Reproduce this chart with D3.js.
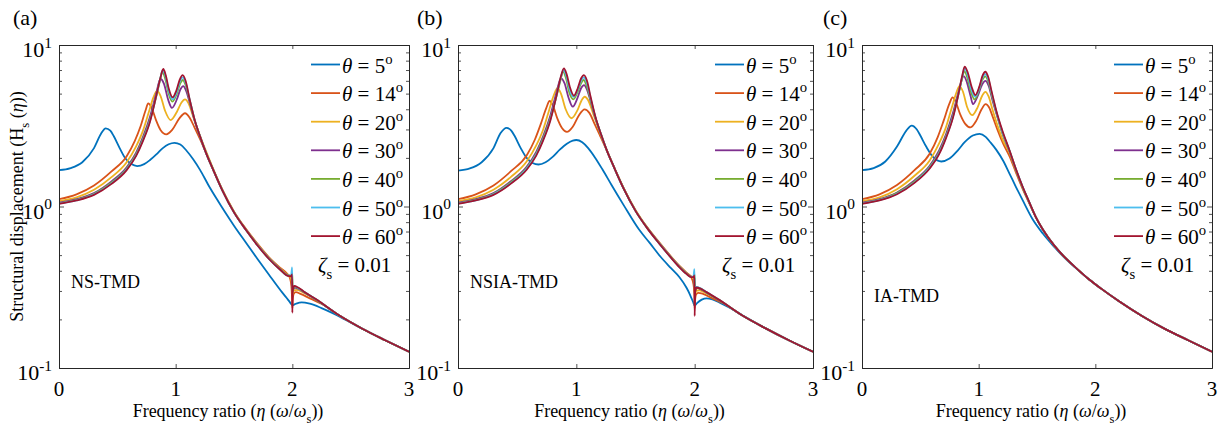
<!DOCTYPE html>
<html><head><meta charset="utf-8">
<script src="https://cdn.jsdelivr.net/npm/d3@7"></script>
<style>
html,body{margin:0;padding:0;background:#fff;}
svg{display:block;}
text{font-family:"Liberation Serif","Times New Roman",serif;fill:#000;white-space:pre;}
</style></head>
<body>
<svg id="chart" width="1225" height="426"></svg>
<script>
// ---------- DATA ----------
const thetas = [5, 14, 20, 30, 40, 50, 60];
const colors = ['#0072BD','#D95319','#EDB120','#7E2F8E','#77AC30','#4DBEEE','#A2142F'];
const xTicks = [0, 1, 2, 3];
const yTicks = [0.1, 1, 10];
const yTickExp = ['-1', '0', '1'];
const yMinor = [0.2,0.3,0.4,0.5,0.6,0.7,0.8,0.9,2,3,4,5,6,7,8,9];
const panelTags = ['(a)', '(b)', '(c)'];
const panelNames = ['NS-TMD', 'NSIA-TMD', 'IA-TMD'];
const zetaText = '0.01';

// Panel (a) NS-TMD : [eta, Hs]
const a5 = [[0,1.68],[0.1,1.73],[0.2,1.88],[0.3,2.3],[0.36,2.82],[0.4,3.05],[0.44,2.95],[0.47,2.72],[0.52,2.3],[0.57,1.98],[0.62,1.83],[0.67,1.78],[0.73,1.83],[0.78,1.94],[0.84,2.12],[0.89,2.3],[0.94,2.43],[0.99,2.48],[1.04,2.42],[1.09,2.23],[1.15,1.96],[1.21,1.68],[1.28,1.36],[1.35,1.12],[1.42,0.93],[1.5,0.76],[1.6,0.6],[1.7,0.475],[1.8,0.378],[1.9,0.302],[1.95,0.272],[1.98,0.255],[2.0,0.245],[2.03,0.25],[2.08,0.255],[2.15,0.25],[2.25,0.235],[2.35,0.218],[2.45,0.2],[2.6,0.175],[2.8,0.148],[3.0,0.126]];
const a14 = [[0,1.11],[0.15,1.19],[0.3,1.35],[0.45,1.65],[0.58,2.05],[0.65,2.55],[0.7,3.15],[0.74,3.9],[0.765,4.35],[0.79,4.15],[0.83,3.45],[0.87,2.98],[0.92,2.8],[0.97,2.98],[1.03,3.5],[1.08,3.78],[1.12,3.55],[1.16,3.1],[1.21,2.6],[1.26,2.15],[1.32,1.7],[1.4,1.27],[1.5,0.93],[1.6,0.73],[1.7,0.59],[1.8,0.485],[1.9,0.415],[1.96,0.38],[1.98,0.36],[1.992,0.32],[1.998,0.265],[2.0,0.235],[2.003,0.262],[2.012,0.288],[2.03,0.295],[2.07,0.288],[2.15,0.27],[2.25,0.25],[2.4,0.212],[2.6,0.175],[2.8,0.148],[3.0,0.126]];
const a20 = [[0,1.08],[0.15,1.14],[0.3,1.27],[0.45,1.52],[0.58,1.88],[0.66,2.35],[0.72,2.95],[0.77,3.85],[0.81,4.75],[0.84,5.2],[0.87,4.85],[0.91,3.9],[0.957,3.43],[1.01,3.85],[1.05,4.4],[1.08,4.6],[1.11,4.35],[1.15,3.6],[1.2,2.85],[1.26,2.2],[1.32,1.72],[1.4,1.27],[1.5,0.93],[1.6,0.725],[1.7,0.585],[1.8,0.48],[1.9,0.41],[1.96,0.378],[1.985,0.365],[1.995,0.345],[2.0,0.3],[2.003,0.285],[2.012,0.302],[2.04,0.305],[2.1,0.292],[2.2,0.267],[2.4,0.212],[2.6,0.175],[2.8,0.148],[3.0,0.126]];
const a30 = [[0,1.055],[0.15,1.11],[0.3,1.21],[0.45,1.43],[0.58,1.75],[0.66,2.15],[0.72,2.7],[0.78,3.6],[0.83,4.9],[0.87,6.16],[0.9,5.75],[0.935,4.6],[0.968,4.08],[1.01,4.6],[1.04,5.3],[1.065,5.57],[1.09,5.2],[1.12,4.4],[1.16,3.45],[1.21,2.7],[1.26,2.15],[1.32,1.7],[1.4,1.26],[1.5,0.92],[1.6,0.72],[1.7,0.58],[1.8,0.477],[1.9,0.407],[1.96,0.375],[1.99,0.37],[1.998,0.36],[2.0,0.33],[2.004,0.3],[2.015,0.315],[2.05,0.31],[2.1,0.295],[2.2,0.266],[2.4,0.212],[2.6,0.175],[2.8,0.148],[3.0,0.126]];
const a40 = [[0,1.05],[0.15,1.1],[0.3,1.2],[0.45,1.41],[0.58,1.72],[0.66,2.1],[0.72,2.62],[0.78,3.45],[0.835,4.85],[0.865,6.0],[0.885,6.83],[0.91,6.2],[0.94,5.0],[0.972,4.46],[1.01,5.0],[1.04,5.8],[1.062,6.07],[1.085,5.65],[1.12,4.55],[1.16,3.5],[1.21,2.7],[1.26,2.15],[1.32,1.7],[1.4,1.26],[1.5,0.92],[1.6,0.72],[1.7,0.578],[1.8,0.475],[1.9,0.405],[1.96,0.374],[1.99,0.372],[1.998,0.385],[2.0,0.36],[2.003,0.3],[2.015,0.318],[2.05,0.312],[2.1,0.296],[2.2,0.266],[2.4,0.212],[2.6,0.175],[2.8,0.148],[3.0,0.126]];
const a50 = [[0,1.045],[0.15,1.09],[0.3,1.19],[0.45,1.39],[0.58,1.7],[0.66,2.07],[0.72,2.58],[0.78,3.4],[0.835,4.9],[0.868,6.2],[0.89,7.0],[0.913,6.4],[0.94,5.2],[0.973,4.6],[1.008,5.1],[1.038,6.0],[1.06,6.3],[1.085,5.85],[1.12,4.6],[1.16,3.5],[1.21,2.7],[1.26,2.15],[1.32,1.7],[1.4,1.26],[1.5,0.92],[1.6,0.72],[1.7,0.577],[1.8,0.474],[1.9,0.404],[1.96,0.373],[1.99,0.375],[1.998,0.42],[2.0,0.3],[2.004,0.31],[2.015,0.32],[2.05,0.313],[2.1,0.297],[2.2,0.267],[2.4,0.212],[2.6,0.175],[2.8,0.148],[3.0,0.126]];
const a60 = [[0,1.04],[0.15,1.09],[0.3,1.18],[0.45,1.38],[0.58,1.68],[0.66,2.05],[0.72,2.55],[0.78,3.35],[0.835,4.9],[0.87,6.3],[0.894,7.1],[0.915,6.5],[0.94,5.4],[0.974,4.74],[1.005,5.2],[1.035,6.1],[1.06,6.5],[1.085,6.0],[1.12,4.6],[1.16,3.5],[1.21,2.7],[1.26,2.15],[1.32,1.7],[1.4,1.26],[1.5,0.92],[1.6,0.72],[1.7,0.576],[1.8,0.473],[1.9,0.403],[1.96,0.372],[1.99,0.37],[1.998,0.38],[2.0,0.22],[2.004,0.3],[2.015,0.322],[2.05,0.315],[2.1,0.297],[2.2,0.267],[2.4,0.212],[2.6,0.175],[2.8,0.148],[3.0,0.126]];

// Panel (b) NSIA-TMD
const b5 = [[0,1.67],[0.1,1.72],[0.2,1.88],[0.3,2.3],[0.36,2.85],[0.41,3.07],[0.45,2.95],[0.48,2.72],[0.53,2.3],[0.58,2.0],[0.63,1.86],[0.68,1.82],[0.74,1.88],[0.8,2.03],[0.86,2.25],[0.92,2.45],[0.97,2.56],[1.0,2.58],[1.05,2.5],[1.1,2.3],[1.16,2.0],[1.22,1.7],[1.3,1.35],[1.4,1.02],[1.53,0.72],[1.62,0.595],[1.71,0.49],[1.8,0.415],[1.87,0.366],[1.93,0.315],[1.96,0.285],[1.985,0.258],[2.0,0.243],[2.02,0.252],[2.06,0.265],[2.1,0.27],[2.15,0.266],[2.22,0.252],[2.3,0.235],[2.4,0.213],[2.6,0.176],[2.8,0.148],[3.0,0.126]];
const b14 = [[0,1.11],[0.15,1.19],[0.3,1.35],[0.45,1.66],[0.58,2.07],[0.65,2.6],[0.7,3.25],[0.745,4.05],[0.774,4.5],[0.8,4.25],[0.84,3.5],[0.88,3.05],[0.92,2.9],[0.97,3.12],[1.02,3.65],[1.07,3.99],[1.11,3.8],[1.15,3.3],[1.2,2.75],[1.26,2.2],[1.32,1.74],[1.4,1.3],[1.5,0.95],[1.6,0.74],[1.7,0.6],[1.8,0.49],[1.87,0.43],[1.93,0.39],[1.97,0.365],[1.99,0.33],[1.998,0.28],[2.0,0.235],[2.003,0.26],[2.012,0.285],[2.03,0.292],[2.07,0.288],[2.15,0.27],[2.25,0.25],[2.4,0.212],[2.6,0.176],[2.8,0.148],[3.0,0.126]];
const b20 = [[0,1.08],[0.15,1.14],[0.3,1.27],[0.45,1.53],[0.58,1.9],[0.66,2.38],[0.72,3.0],[0.77,3.95],[0.81,4.9],[0.84,5.4],[0.87,5.0],[0.91,4.0],[0.96,3.52],[1.01,3.95],[1.045,4.55],[1.07,4.78],[1.1,4.55],[1.14,3.8],[1.19,3.0],[1.25,2.3],[1.32,1.75],[1.4,1.3],[1.5,0.95],[1.6,0.74],[1.7,0.597],[1.8,0.488],[1.87,0.428],[1.93,0.388],[1.97,0.37],[1.99,0.36],[1.997,0.34],[2.0,0.3],[2.003,0.285],[2.012,0.3],[2.04,0.303],[2.1,0.29],[2.2,0.266],[2.4,0.212],[2.6,0.176],[2.8,0.148],[3.0,0.126]];
const b30 = [[0,1.055],[0.15,1.11],[0.3,1.21],[0.45,1.44],[0.58,1.76],[0.66,2.17],[0.72,2.73],[0.78,3.65],[0.83,5.0],[0.87,6.22],[0.9,5.8],[0.935,4.7],[0.97,4.15],[1.01,4.7],[1.04,5.4],[1.065,5.65],[1.09,5.3],[1.12,4.5],[1.16,3.55],[1.21,2.78],[1.26,2.2],[1.32,1.74],[1.4,1.29],[1.5,0.94],[1.6,0.735],[1.7,0.593],[1.8,0.485],[1.87,0.425],[1.93,0.386],[1.97,0.368],[1.99,0.366],[1.998,0.36],[2.0,0.33],[2.004,0.3],[2.015,0.313],[2.05,0.308],[2.1,0.293],[2.2,0.265],[2.4,0.212],[2.6,0.176],[2.8,0.148],[3.0,0.126]];
const b40 = [[0,1.05],[0.15,1.1],[0.3,1.2],[0.45,1.42],[0.58,1.73],[0.66,2.12],[0.72,2.65],[0.78,3.5],[0.835,4.9],[0.865,6.0],[0.887,6.85],[0.912,6.25],[0.94,5.1],[0.975,4.61],[1.01,5.1],[1.04,5.8],[1.062,6.07],[1.085,5.65],[1.12,4.6],[1.16,3.58],[1.21,2.78],[1.26,2.2],[1.32,1.74],[1.4,1.29],[1.5,0.94],[1.6,0.734],[1.7,0.592],[1.8,0.484],[1.87,0.424],[1.93,0.385],[1.97,0.367],[1.99,0.367],[1.998,0.38],[2.0,0.35],[2.003,0.3],[2.015,0.316],[2.05,0.31],[2.1,0.294],[2.2,0.265],[2.4,0.212],[2.6,0.176],[2.8,0.148],[3.0,0.126]];
const b50 = [[0,1.045],[0.15,1.09],[0.3,1.19],[0.45,1.4],[0.58,1.71],[0.66,2.09],[0.72,2.6],[0.78,3.45],[0.835,4.95],[0.868,6.25],[0.892,7.0],[0.915,6.45],[0.943,5.3],[0.977,4.77],[1.01,5.25],[1.04,6.0],[1.063,6.3],[1.088,5.85],[1.12,4.7],[1.16,3.6],[1.21,2.78],[1.26,2.2],[1.32,1.74],[1.4,1.29],[1.5,0.94],[1.6,0.733],[1.7,0.591],[1.8,0.483],[1.87,0.423],[1.93,0.384],[1.97,0.366],[1.99,0.37],[1.998,0.41],[2.0,0.3],[2.004,0.31],[2.015,0.318],[2.05,0.311],[2.1,0.295],[2.2,0.266],[2.4,0.212],[2.6,0.176],[2.8,0.148],[3.0,0.126]];
const b60 = [[0,1.04],[0.15,1.09],[0.3,1.18],[0.45,1.39],[0.58,1.69],[0.66,2.06],[0.72,2.57],[0.78,3.4],[0.835,4.95],[0.87,6.4],[0.895,7.17],[0.918,6.6],[0.945,5.5],[0.98,4.85],[1.012,5.4],[1.04,6.2],[1.064,6.5],[1.09,6.0],[1.12,4.8],[1.16,3.62],[1.21,2.78],[1.26,2.2],[1.32,1.74],[1.4,1.29],[1.5,0.94],[1.6,0.732],[1.7,0.59],[1.8,0.482],[1.87,0.422],[1.93,0.383],[1.97,0.365],[1.99,0.365],[1.998,0.375],[2.0,0.21],[2.004,0.295],[2.015,0.315],[2.05,0.31],[2.1,0.295],[2.2,0.266],[2.4,0.212],[2.6,0.176],[2.8,0.148],[3.0,0.126]];

// Panel (c) IA-TMD
const c5 = [[0,1.68],[0.1,1.73],[0.2,1.9],[0.3,2.35],[0.38,2.95],[0.426,3.17],[0.47,3.0],[0.5,2.75],[0.55,2.35],[0.61,2.02],[0.68,1.9],[0.75,1.98],[0.82,2.22],[0.88,2.5],[0.95,2.75],[1.008,2.82],[1.06,2.7],[1.1,2.5],[1.15,2.25],[1.21,1.92],[1.264,1.6],[1.32,1.32],[1.378,1.09],[1.46,0.84],[1.55,0.68],[1.65,0.56],[1.75,0.47],[1.85,0.405],[1.95,0.352],[2.05,0.31],[2.2,0.26],[2.4,0.21],[2.6,0.174],[2.8,0.148],[3.0,0.126]];
const c14 = [[0,1.11],[0.15,1.19],[0.3,1.36],[0.45,1.68],[0.58,2.12],[0.65,2.7],[0.7,3.4],[0.75,4.35],[0.776,4.74],[0.8,4.5],[0.84,3.75],[0.885,3.25],[0.93,3.09],[0.98,3.4],[1.025,4.0],[1.06,4.3],[1.09,4.1],[1.12,3.6],[1.16,3.0],[1.21,2.45],[1.264,2.05],[1.32,1.62],[1.378,1.28],[1.43,1.06],[1.49,0.86],[1.55,0.72],[1.65,0.57],[1.75,0.475],[1.85,0.407],[1.95,0.352],[2.05,0.31],[2.2,0.26],[2.4,0.21],[2.6,0.174],[2.8,0.148],[3.0,0.126]];
const c20 = [[0,1.08],[0.15,1.14],[0.3,1.28],[0.45,1.55],[0.58,1.93],[0.66,2.45],[0.72,3.1],[0.77,4.1],[0.81,5.1],[0.835,5.57],[0.865,5.15],[0.9,4.15],[0.945,3.68],[0.99,4.1],[1.03,4.85],[1.058,5.13],[1.085,4.8],[1.12,3.95],[1.16,3.2],[1.21,2.55],[1.264,2.15],[1.32,1.66],[1.378,1.3],[1.43,1.07],[1.49,0.86],[1.55,0.72],[1.65,0.57],[1.75,0.475],[1.85,0.407],[1.95,0.352],[2.05,0.31],[2.2,0.26],[2.4,0.21],[2.6,0.174],[2.8,0.148],[3.0,0.126]];
const c30 = [[0,1.055],[0.15,1.11],[0.3,1.22],[0.45,1.45],[0.58,1.79],[0.66,2.22],[0.72,2.8],[0.78,3.8],[0.83,5.2],[0.872,6.42],[0.9,5.85],[0.93,4.85],[0.951,4.3],[0.99,4.8],[1.03,5.7],[1.058,6.0],[1.085,5.6],[1.12,4.5],[1.16,3.6],[1.21,2.75],[1.264,2.2],[1.32,1.68],[1.378,1.31],[1.43,1.075],[1.49,0.86],[1.55,0.72],[1.65,0.57],[1.75,0.475],[1.85,0.407],[1.95,0.352],[2.05,0.31],[2.2,0.26],[2.4,0.21],[2.6,0.174],[2.8,0.148],[3.0,0.126]];
const c40 = [[0,1.05],[0.15,1.1],[0.3,1.21],[0.45,1.43],[0.58,1.76],[0.66,2.16],[0.72,2.72],[0.78,3.65],[0.83,5.1],[0.858,6.2],[0.878,6.9],[0.902,6.3],[0.935,5.1],[0.965,4.6],[1.0,5.2],[1.033,6.1],[1.057,6.4],[1.082,5.95],[1.115,4.8],[1.155,3.75],[1.2,2.9],[1.264,2.22],[1.32,1.69],[1.378,1.31],[1.43,1.077],[1.49,0.86],[1.55,0.72],[1.65,0.57],[1.75,0.475],[1.85,0.407],[1.95,0.352],[2.05,0.31],[2.2,0.26],[2.4,0.21],[2.6,0.174],[2.8,0.148],[3.0,0.126]];
const c50 = [[0,1.045],[0.15,1.095],[0.3,1.2],[0.45,1.41],[0.58,1.74],[0.66,2.13],[0.72,2.68],[0.78,3.6],[0.828,5.0],[0.858,6.3],[0.88,7.2],[0.904,6.6],[0.937,5.3],[0.969,4.78],[1.003,5.35],[1.034,6.3],[1.057,6.6],[1.082,6.15],[1.113,5.0],[1.152,3.85],[1.2,2.95],[1.264,2.22],[1.32,1.7],[1.378,1.32],[1.43,1.078],[1.49,0.86],[1.55,0.72],[1.65,0.57],[1.75,0.475],[1.85,0.407],[1.95,0.352],[2.05,0.31],[2.2,0.26],[2.4,0.21],[2.6,0.174],[2.8,0.148],[3.0,0.126]];
const c60 = [[0,1.04],[0.15,1.09],[0.3,1.19],[0.45,1.4],[0.58,1.72],[0.66,2.1],[0.72,2.65],[0.78,3.55],[0.825,4.9],[0.86,6.5],[0.88,7.34],[0.905,6.8],[0.94,5.5],[0.972,4.9],[1.005,5.5],[1.035,6.5],[1.057,6.83],[1.08,6.4],[1.11,5.2],[1.15,3.95],[1.2,3.0],[1.264,2.23],[1.32,1.7],[1.378,1.32],[1.43,1.08],[1.49,0.86],[1.55,0.72],[1.65,0.57],[1.75,0.475],[1.85,0.407],[1.95,0.352],[2.05,0.31],[2.2,0.26],[2.4,0.21],[2.6,0.174],[2.8,0.148],[3.0,0.126]];

const seriesA = [a5, a14, a20, a30, a40, a50, a60];
const seriesB = [b5, b14, b20, b30, b40, b50, b60];
const seriesC = [c5, c14, c20, c30, c40, c50, c60];

// ---------- LAYOUT ----------
const TOP = 45, BOTTOM = 368;
const panels = [
  {left: 59,  right: 409,  tagX: 13,  nameX: 71,  nameY: 288, series: seriesA},
  {left: 458, right: 813,  tagX: 417, nameX: 470, nameY: 288, series: seriesB},
  {left: 862, right: 1212, tagX: 823, nameX: 874, nameY: 302, series: seriesC}
];

const svg = d3.select('#chart');
const axisColor = '#262626';

function rich(textSel, parts, size) {
  let shift = 0;
  parts.forEach(p => {
    const ts = textSel.append('tspan').text(p.t);
    let target = 0;
    if (p.sub) { target = size * 0.32; ts.attr('font-size', size * 0.7); }
    if (p.sup) { target = -size * 0.42; ts.attr('font-size', size * 0.7); }
    if (p.it) ts.attr('font-style', 'italic');
    if (target - shift !== 0) ts.attr('dy', target - shift);
    shift = target;
  });
}

const y = d3.scaleLog().domain([0.1, 10]).range([BOTTOM, TOP]);

panels.forEach((P, pi) => {
  const x = d3.scaleLinear().domain([0, 3]).range([P.left, P.right]);
  const g = svg.append('g');

  const clipId = 'clip' + pi;
  svg.append('clipPath').attr('id', clipId).append('rect')
    .attr('x', P.left).attr('y', TOP - 1).attr('width', P.right - P.left).attr('height', BOTTOM - TOP + 2);

  // curves
  const line = d3.line().x(d => x(d[0])).y(d => y(d[1])).curve(d3.curveMonotoneX);
  const cg = g.append('g').attr('clip-path', `url(#${clipId})`);
  P.series.forEach((s, i) => {
    cg.append('path').attr('d', line(s)).attr('fill', 'none')
      .attr('stroke', colors[i]).attr('stroke-width', 1.8).attr('stroke-linejoin', 'round');
  });

  // axes (ticks inward, box)
  const ax = g.append('g').attr('class', 'axes');
  ax.append('g').attr('transform', `translate(0,${BOTTOM})`)
    .call(d3.axisBottom(x).tickValues(xTicks).tickSizeInner(-4).tickSizeOuter(0).tickFormat(''));
  ax.append('g').attr('transform', `translate(0,${TOP})`)
    .call(d3.axisTop(x).tickValues(xTicks).tickSizeInner(-4).tickSizeOuter(0).tickFormat(''));
  ax.append('g').attr('transform', `translate(${P.left},0)`)
    .call(d3.axisLeft(y).tickValues(yTicks).tickSizeInner(-5).tickSizeOuter(0).tickFormat(''));
  ax.append('g').attr('transform', `translate(${P.left},0)`)
    .call(d3.axisLeft(y).tickValues(yMinor).tickSizeInner(-3).tickSizeOuter(0).tickFormat(''));
  ax.append('g').attr('transform', `translate(${P.right},0)`)
    .call(d3.axisRight(y).tickValues(yTicks).tickSizeInner(-5).tickSizeOuter(0).tickFormat(''));
  ax.append('g').attr('transform', `translate(${P.right},0)`)
    .call(d3.axisRight(y).tickValues(yMinor).tickSizeInner(-3).tickSizeOuter(0).tickFormat(''));
  ax.selectAll('path.domain').attr('stroke', axisColor).attr('stroke-width', 1);
  ax.selectAll('.tick line').attr('stroke', axisColor).attr('stroke-width', 0.8);

  // x tick labels
  xTicks.forEach(v => {
    g.append('text').attr('x', x(v)).attr('y', BOTTOM + 28).attr('text-anchor', 'middle')
      .attr('font-size', 21).text(v);
  });
  // y tick labels
  yTicks.forEach((v, i) => {
    const t = g.append('text').attr('x', P.left - 7).attr('y', y(v) + 12)
      .attr('text-anchor', 'end').attr('font-size', 22);
    rich(t, [{t: '10'}, {t: yTickExp[i], sup: true}], 22);
  });

  // x label
  const xl = g.append('text').attr('x', (P.left + P.right) / 2 - 6).attr('y', 417)
    .attr('text-anchor', 'middle').attr('font-size', 18);
  rich(xl, [{t: 'Frequency ratio ('}, {t: 'η', it: true}, {t: ' ('}, {t: 'ω', it: true}, {t: '/'},
            {t: 'ω', it: true}, {t: 's', sub: true}, {t: '))'}], 18);

  // panel tag
  g.append('text').attr('x', P.tagX).attr('y', 25).attr('font-size', 22).text(panelTags[pi]);

  // panel name
  g.append('text').attr('x', P.nameX).attr('y', P.nameY).attr('font-size', 18).text(panelNames[pi]);

  // legend
  const lx = P.right - 98;
  thetas.forEach((th, i) => {
    const ly = 64.5 + i * 28.6;
    g.append('line').attr('x1', lx).attr('x2', lx + 29).attr('y1', ly).attr('y2', ly)
      .attr('stroke', colors[i]).attr('stroke-width', 1.8);
    const t = g.append('text').attr('x', lx + 31).attr('y', ly + 8).attr('font-size', 21);
    rich(t, [{t: 'θ', it: true}, {t: ' = ' + th}, {t: 'o', sup: true}], 21);
  });

  // zeta label
  const zt = g.append('text').attr('x', P.right - 91).attr('y', 272).attr('font-size', 21);
  rich(zt, [{t: 'ζ', it: true}, {t: 's', sub: true}, {t: ' = ' + zetaText}], 21);
});

// y label (left panel only)
const yl = svg.append('text').attr('transform', `translate(23,${(TOP + BOTTOM) / 2}) rotate(-90)`)
  .attr('text-anchor', 'middle').attr('font-size', 18);
rich(yl, [{t: 'Structural displacement (H'}, {t: 's', sub: true}, {t: ' ('}, {t: 'η', it: true}, {t: '))'}], 18);
</script>
</body></html>
